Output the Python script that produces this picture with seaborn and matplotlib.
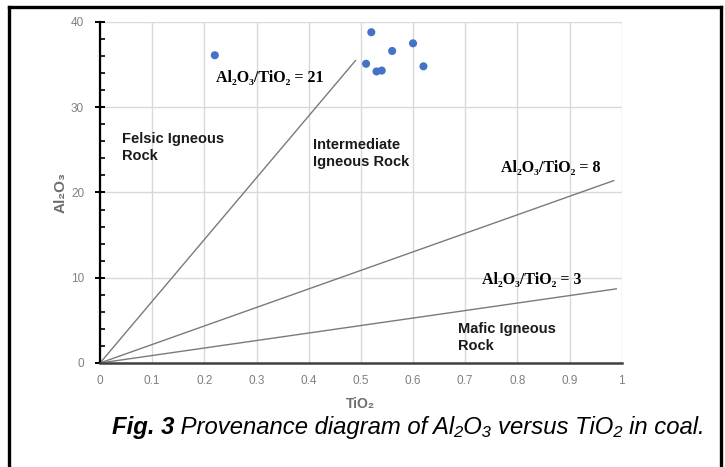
import numpy as np
import pandas as pd
import seaborn as sns
import matplotlib
matplotlib.use("Agg")
import matplotlib.pyplot as plt
from matplotlib.lines import Line2D
from matplotlib.ticker import MultipleLocator

# ---- data ----
tio2 = [0.22, 0.52, 0.51, 0.53, 0.54, 0.56, 0.60, 0.62]
al2o3 = [36.1, 38.8, 35.1, 34.2, 34.3, 36.6, 37.5, 34.8]

ratio_labels = ["21", "8", "3"]
line_x_end = [0.49, 0.985, 0.99]
line_y_end = [35.5, 21.4, 8.7]

x_ticks = [0, 0.1, 0.2, 0.3, 0.4, 0.5, 0.6, 0.7, 0.8, 0.9, 1]
x_tick_labels = ["0", "0.1", "0.2", "0.3", "0.4", "0.5", "0.6", "0.7", "0.8", "0.9", "1"]
y_ticks = [0, 10, 20, 30, 40]

sns.set_theme(style="white")
plt.rcParams["font.family"] = ["Liberation Sans", "DejaVu Sans"]

fig = plt.figure(figsize=(7.25, 4.67), dpi=100)
ax = fig.add_axes([0.138, 0.2227, 0.7195, 0.7302])

df = pd.DataFrame({"TiO2": tio2, "Al2O3": al2o3})

# reference lines
for xe, ye in zip(line_x_end, line_y_end):
    ldf = pd.DataFrame({"x": [0.0, xe], "y": [0.0, ye]})
    sns.lineplot(data=ldf, x="x", y="y", ax=ax, color="#7a7a7a", lw=1.0,
                 sort=False, estimator=None)

sns.scatterplot(data=df, x="TiO2", y="Al2O3", ax=ax, color="#4472C4",
                s=34, edgecolor="none", zorder=5)

ax.set_xlim(0, 1)
ax.set_ylim(0, 40)
ax.set_xticks(x_ticks)
ax.set_xticklabels(x_tick_labels)
ax.set_yticks(y_ticks)
ax.yaxis.set_minor_locator(MultipleLocator(2))
ax.grid(True, which="major", color="#d9d9d9", lw=1.0)
ax.set_axisbelow(True)

for s in ["top", "right"]:
    ax.spines[s].set_visible(False)
ax.spines["left"].set_color("black")
ax.spines["left"].set_linewidth(1.6)
ax.spines["bottom"].set_color("#404040")
ax.spines["bottom"].set_linewidth(1.8)

ax.tick_params(axis="x", length=0, pad=9, labelsize=8.5, labelcolor="#808080")
ax.tick_params(axis="y", which="major", direction="inout", length=7, width=1.4,
               color="black", pad=8, labelsize=8.5, labelcolor="#808080", left=True)
ax.tick_params(axis="y", which="minor", direction="in", length=3.5, width=1.2,
               color="black", left=True)

ax.set_xlabel("TiO₂", fontsize=10, color="#6e6e6e", labelpad=7, fontweight="bold")
ax.set_ylabel("Al₂O₃", fontsize=11, color="#6e6e6e", labelpad=2, fontweight="bold")

serif = ["Liberation Serif", "DejaVu Serif"]
# ratio annotations
ann_x = [0.222, 0.769, 0.732]
ann_y = [33.4, 22.9, 9.7]
for lab, xa, ya in zip(ratio_labels, ann_x, ann_y):
    ax.text(xa, ya, "Al₂O₃/TiO₂ = " + lab, fontsize=11.5, family=serif,
            fontweight="bold", color="black", ha="left", va="center")

region_labels = ["Felsic Igneous\nRock", "Intermediate\nIgneous Rock", "Mafic Igneous\nRock"]
region_x = [0.042, 0.409, 0.687]
region_y = [25.3, 24.6, 3.0]
for lab, xa, ya in zip(region_labels, region_x, region_y):
    ax.text(xa, ya, lab, fontsize=10.5, fontweight="bold", color="#1a1a1a",
            ha="left", va="center", linespacing=1.25)

# caption: bold-italic "Fig. 3" followed by italic text
t1 = fig.text(112 / 725, 1 - 434 / 467, "Fig. 3", fontsize=17.2, fontweight="bold",
              fontstyle="italic", ha="left", va="baseline", color="black")
fig.canvas.draw()
ax.annotate(" Provenance diagram of Al₂O₃ versus TiO₂ in coal.", xy=(1, 0),
            xycoords=t1, xytext=(0, 0), textcoords="offset points",
            fontsize=17.2, fontstyle="italic", ha="left", va="bottom",
            color="black", annotation_clip=False)

# outer frame (top, left, right)
lw_frame = 2.4
fig.add_artist(Line2D([9 / 725, 9 / 725], [-0.01, 1 - 6.5 / 467], transform=fig.transFigure,
                      color="black", lw=lw_frame, solid_capstyle="projecting"))
fig.add_artist(Line2D([720.5 / 725, 720.5 / 725], [-0.01, 1 - 6.5 / 467], transform=fig.transFigure,
                      color="black", lw=lw_frame, solid_capstyle="projecting"))
fig.add_artist(Line2D([9 / 725, 720.5 / 725], [1 - 6.5 / 467, 1 - 6.5 / 467], transform=fig.transFigure,
                      color="black", lw=lw_frame, solid_capstyle="projecting"))

fig.savefig("out.png", dpi=100)
